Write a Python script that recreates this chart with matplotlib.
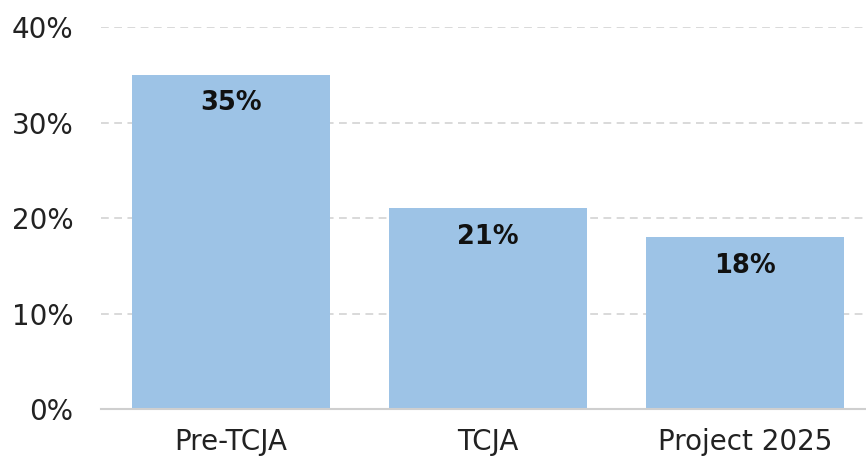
import matplotlib
matplotlib.use("Agg")
import matplotlib.pyplot as plt
from matplotlib.ticker import FuncFormatter

plt.rcParams['font.family'] = ['DejaVu Sans']

# top corporate tax rate under each scenario
categories = ["Pre-TCJA", "TCJA", "Project 2025"]
rates = [35, 21, 18]
yticks = [0, 10, 20, 30, 40]

bar_color = "#9dc3e6"
text_color = "#222222"

fig = plt.figure(figsize=[8.66, 4.63], dpi=100)
ax = fig.add_axes([0.1166, 0.1166, 0.8834, 0.825])

x = list(range(len(categories)))
bars = ax.bar(x, rates, width=0.77, color=bar_color, zorder=2)

ax.set_xlim(-0.504, 2.47)
ax.set_ylim(0, 40)
ax.set_yticks(yticks)
ax.yaxis.set_major_formatter(FuncFormatter(lambda v, pos: "%d%%" % v))
ax.set_xticks(x)
ax.set_xticklabels(categories)

ax.yaxis.grid(True, color="#d9d9d9", linewidth=1.4, linestyle=(0, (4, 2.8)), zorder=0)
ax.set_axisbelow(True)
for side in ["top", "right", "left"]:
    ax.spines[side].set_visible(False)
ax.spines["bottom"].set_color("#cfcfcf")
ax.spines["bottom"].set_linewidth(1.5)
ax.spines["bottom"].set_zorder(3)

ax.tick_params(axis="both", length=0, labelsize=20, colors=text_color)
ax.tick_params(axis="y", pad=20)
ax.tick_params(axis="x", pad=14)

# value labels just inside the top of each bar
for rect, v in zip(bars, rates):
    ax.annotate("%d%%" % v, (rect.get_x() + rect.get_width() / 2, v),
                xytext=(0, -20.5), textcoords="offset points",
                ha="center", va="center", fontsize=18.5, fontweight="bold",
                color="#111111", zorder=4)

fig.savefig("out.png", dpi=100)
